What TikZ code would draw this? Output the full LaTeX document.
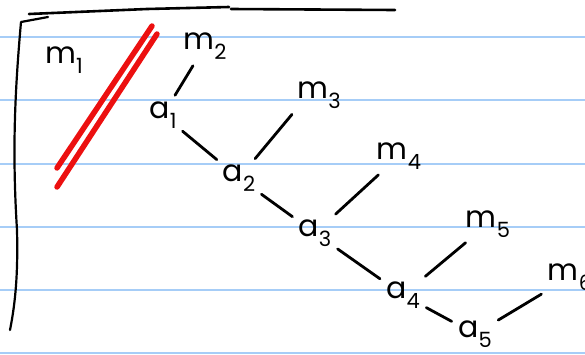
\documentclass[tikz,border=0pt]{standalone}
\usepackage{fontspec}
\setmainfont{Poppins}
\usetikzlibrary{positioning}

\definecolor{ruleblue}{RGB}{166,205,247}
\definecolor{marker}{RGB}{236,16,16}

% handwritten label with a lowered index
\newcommand{\hw}[2]{#1\raisebox{-0.6ex}{\fontsize{21}{21}\selectfont #2}}

\begin{document}
\begin{tikzpicture}[x=1pt,y=-1pt,
  lbl/.style={font=\fontsize{30}{30}\selectfont,inner sep=2pt},
  pen/.style={line width=2.8pt,line cap=round,shorten <=5pt,shorten >=5pt},
  hl/.style={marker,line width=5.5pt,line cap=round}]
  % Page: 585 x 354 px.
  \useasboundingbox (0,0) rectangle (585,354);

  % Ruled paper.
  \foreach \y in {37,100,164,227,290,353}{
    \draw[ruleblue,line width=2.2pt] (0,\y) -- (585,\y);
  }

  % Bracket round the tree.
  \draw[line width=2.6pt,line cap=round] (29,14) -- (147,9) -- (229,7) (231,9) -- (395,10);
  \draw[line width=2.2pt,line cap=round,line join=round]
    (48,17) -- (21,22) .. controls (15,90) and (12,150) .. (17,230)
    .. controls (18,270) and (16,300) .. (10,330);

  % Red strike-through.
  \draw[hl] (152,26) -- (57,168);
  \draw[hl] (157,34) -- (57,187);

  % Labels.
  \node[lbl] (m1) at (64,60)  {\hw{m}{1}};
  \node[lbl] (m2) at (205,46) {\hw{m}{2}};
  \node[lbl] (m3) at (319,95) {\hw{m}{3}};
  \node[lbl] (m4) at (399,156) {\hw{m}{4}};
  \node[lbl] (m5) at (488,224) {\hw{m}{5}};
  \node[lbl] (m6) at (570,277) {\hw{m}{6}};
  \node[lbl] (a1) at (163,115) {\hw{a}{1}};
  \node[lbl] (a2) at (239,178) {\hw{a}{2}};
  \node[lbl] (a3) at (315,233) {\hw{a}{3}};
  \node[lbl] (a4) at (403,295) {\hw{a}{4}};
  \node[lbl] (a5) at (475,334) {\hw{a}{5}};

  % Spine a1 ... a5.
  \draw[pen] (a1) -- (a2);
  \draw[pen] (a2) -- (a3);
  \draw[pen] (a3) -- (a4);
  \draw[pen] (a4) -- (a5);

  % Leaves.
  \draw[pen] (m2) -- (a1);
  \draw[pen] (m3.south west) -- (a2);
  \draw[pen] (m4) -- (a3);
  \draw[pen] (m5) -- (a4);
  \draw[pen] (m6) -- (a5);
\end{tikzpicture}
\end{document}
